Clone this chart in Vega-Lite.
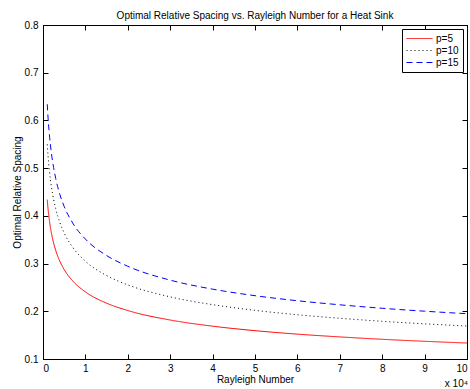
{
  "$schema": "https://vega.github.io/schema/vega-lite/v6.json",
  "width": 424,
  "height": 334,
  "autosize": {"type": "none"},
  "padding": {"left": 43, "top": 25, "right": 3, "bottom": 30},
  "background": "white",
  "config": {
    "font": "Liberation Sans",
    "view": {"stroke": "black", "strokeWidth": 1},
    "axis": {
      "labelFont": "Liberation Sans", "labelFontSize": 10, "labelColor": "#000",
      "titleFont": "Liberation Sans", "titleFontSize": 10, "titleFontWeight": "normal", "titleColor": "#000",
      "domainColor": "#000", "tickColor": "#000", "grid": false, "tickSize": -5
    }
  },
  "title": {"text": "Optimal Relative Spacing vs. Rayleigh Number for a Heat Sink", "fontSize": 10, "fontWeight": "normal", "font": "Liberation Sans", "offset": -1, "color": "#000"},
  "data": {"values": [
    {"ra": 0.1, "s": 0.434, "p": "p=5"}, {"ra": 0.12, "s": 0.4142, "p": "p=5"}, {"ra": 0.15, "s": 0.391, "p": "p=5"}, {"ra": 0.2, "s": 0.3634, "p": "p=5"}, {"ra": 0.25, "s": 0.3433, "p": "p=5"}, {"ra": 0.3, "s": 0.3276, "p": "p=5"}, {"ra": 0.4, "s": 0.3043, "p": "p=5"}, {"ra": 0.5, "s": 0.2874, "p": "p=5"}, {"ra": 0.7, "s": 0.2637, "p": "p=5"}, {"ra": 1, "s": 0.2407, "p": "p=5"}, {"ra": 1.5, "s": 0.217, "p": "p=5"}, {"ra": 2, "s": 0.2016, "p": "p=5"}, {"ra": 3, "s": 0.1817, "p": "p=5"}, {"ra": 4, "s": 0.1688, "p": "p=5"}, {"ra": 5, "s": 0.1594, "p": "p=5"}, {"ra": 6, "s": 0.1521, "p": "p=5"}, {"ra": 7, "s": 0.1463, "p": "p=5"}, {"ra": 8, "s": 0.1413, "p": "p=5"}, {"ra": 9, "s": 0.1371, "p": "p=5"}, {"ra": 10, "s": 0.1335, "p": "p=5"},
    {"ra": 0.1, "s": 0.55, "p": "p=10"}, {"ra": 0.12, "s": 0.5248, "p": "p=10"}, {"ra": 0.15, "s": 0.495, "p": "p=10"}, {"ra": 0.2, "s": 0.4604, "p": "p=10"}, {"ra": 0.25, "s": 0.4349, "p": "p=10"}, {"ra": 0.3, "s": 0.4151, "p": "p=10"}, {"ra": 0.4, "s": 0.3855, "p": "p=10"}, {"ra": 0.5, "s": 0.3641, "p": "p=10"}, {"ra": 0.7, "s": 0.3341, "p": "p=10"}, {"ra": 1, "s": 0.305, "p": "p=10"}, {"ra": 1.5, "s": 0.2749, "p": "p=10"}, {"ra": 2, "s": 0.2554, "p": "p=10"}, {"ra": 3, "s": 0.2302, "p": "p=10"}, {"ra": 4, "s": 0.2139, "p": "p=10"}, {"ra": 5, "s": 0.202, "p": "p=10"}, {"ra": 6, "s": 0.1927, "p": "p=10"}, {"ra": 7, "s": 0.1854, "p": "p=10"}, {"ra": 8, "s": 0.179, "p": "p=10"}, {"ra": 9, "s": 0.1737, "p": "p=10"}, {"ra": 10, "s": 0.1691, "p": "p=10"},
    {"ra": 0.1, "s": 0.634, "p": "p=15"}, {"ra": 0.12, "s": 0.6047, "p": "p=15"}, {"ra": 0.15, "s": 0.571, "p": "p=15"}, {"ra": 0.2, "s": 0.5306, "p": "p=15"}, {"ra": 0.25, "s": 0.5012, "p": "p=15"}, {"ra": 0.3, "s": 0.4783, "p": "p=15"}, {"ra": 0.4, "s": 0.4443, "p": "p=15"}, {"ra": 0.5, "s": 0.4196, "p": "p=15"}, {"ra": 0.7, "s": 0.385, "p": "p=15"}, {"ra": 1, "s": 0.3514, "p": "p=15"}, {"ra": 1.5, "s": 0.3168, "p": "p=15"}, {"ra": 2, "s": 0.2943, "p": "p=15"}, {"ra": 3, "s": 0.2653, "p": "p=15"}, {"ra": 4, "s": 0.2464, "p": "p=15"}, {"ra": 5, "s": 0.2327, "p": "p=15"}, {"ra": 6, "s": 0.2221, "p": "p=15"}, {"ra": 7, "s": 0.2136, "p": "p=15"}, {"ra": 8, "s": 0.2063, "p": "p=15"}, {"ra": 9, "s": 0.2002, "p": "p=15"}, {"ra": 10, "s": 0.1949, "p": "p=15"}
  ]},
  "resolve": {"axis": {"x": "independent", "y": "independent"}},
  "layer": [
    {
      "mark": {"type": "line", "strokeWidth": 1, "interpolate": "monotone", "clip": true},
      "encoding": {
        "x": {"field": "ra", "type": "quantitative", "scale": {"domain": [0, 10], "nice": false, "zero": false},
          "axis": {"orient": "bottom", "title": "Rayleigh Number", "values": [0,1,2,3,4,5,6,7,8,9,10], "format": "d", "labelPadding": 9, "titlePadding": 1}},
        "y": {"field": "s", "type": "quantitative", "scale": {"domain": [0.1, 0.8], "nice": false, "zero": false},
          "axis": {"orient": "left", "title": "Optimal Relative Spacing", "values": [0.1,0.2,0.3,0.4,0.5,0.6,0.7,0.8], "format": ".1f", "labelPadding": 10, "titlePadding": 2}},
        "color": {"field": "p", "type": "nominal",
          "scale": {"domain": ["p=5", "p=10", "p=15"], "range": ["#FF0000", "#000000", "#0000FF"]},
          "legend": {"title": null, "orient": "top-right", "offset": 4, "strokeColor": "#000", "fillColor": "white", "padding": 4, "symbolType": "M-1,0H4.2", "symbolSize": 100, "symbolStrokeWidth": 1, "symbolFillColor": "transparent", "labelFontSize": 10, "labelFont": "Liberation Sans", "labelColor": "#000", "rowPadding": 1, "labelOffset": 19}},
        "strokeDash": {"field": "p", "type": "nominal",
          "scale": {"domain": ["p=5", "p=10", "p=15"], "range": [[1, 0], [1, 3], [6, 4]]},
          "legend": {"title": null, "orient": "top-right"}}
      }
    },
    {
      "mark": {"type": "point", "opacity": 0},
      "encoding": {
        "x": {"field": "ra", "type": "quantitative", "scale": {"domain": [0, 10], "nice": false, "zero": false},
          "axis": {"orient": "top", "title": null, "labels": false, "values": [0,1,2,3,4,5,6,7,8,9,10]}},
        "y": {"field": "s", "type": "quantitative", "scale": {"domain": [0.1, 0.8], "nice": false, "zero": false},
          "axis": {"orient": "right", "title": null, "labels": false, "values": [0.1,0.2,0.3,0.4,0.5,0.6,0.7,0.8]}}
      }
    },
    {
      "data": {"values": [{"label": "x 10⁴"}]},
      "mark": {"type": "text", "fontSize": 10, "fontWeight": "normal", "font": "Liberation Sans", "align": "right", "baseline": "alphabetic", "dy": 28, "dx": 1, "color": "#000"},
      "encoding": {
        "x": {"datum": 10, "type": "quantitative", "axis": null},
        "y": {"datum": 0.1, "type": "quantitative", "axis": null},
        "text": {"field": "label"}
      }
    }
  ]
}
